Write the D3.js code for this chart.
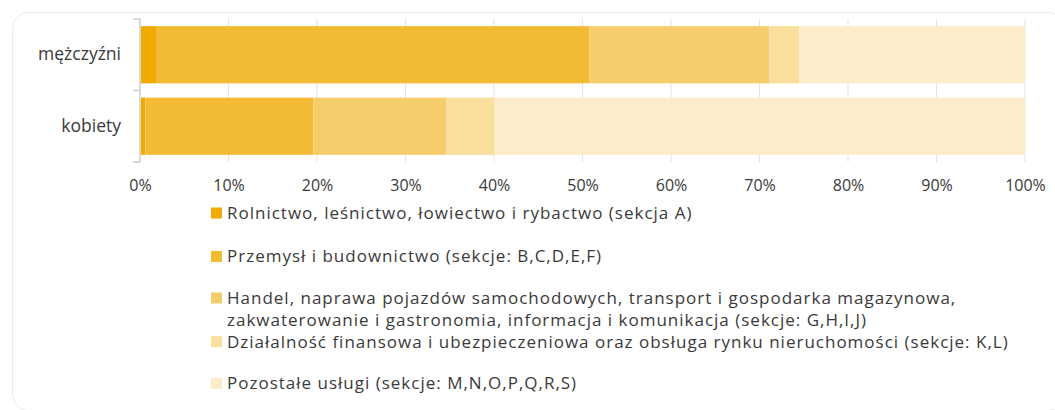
<!doctype html>
<html>
<head>
    <meta charset="utf-8" />
    <title></title>
    <style>
        body { margin: 0; background: #fff; }
        svg text { font-family: "Open Sans", "Noto Sans", sans-serif; fill: #3a3a3a; }
        .grid line { stroke: #e3e3e3; }
        .legend text { letter-spacing: 1px; }
    </style>
</head>
<body>
    <div id="chart"></div>

    <script src="https://cdn.jsdelivr.net/npm/d3@7"></script>
    <script>
        var categories = ["mężczyźni", "kobiety"];
        var series = [
            "Rolnictwo, leśnictwo, łowiectwo i rybactwo (sekcja A)",
            "Przemysł i budownictwo (sekcje: B,C,D,E,F)",
            "Handel, naprawa pojazdów samochodowych, transport i gospodarka magazynowa,|zakwaterowanie i gastronomia, informacja i komunikacja (sekcje: G,H,I,J)",
            "Działalność finansowa i ubezpieczeniowa oraz obsługa rynku nieruchomości (sekcje: K,L)",
            "Pozostałe usługi (sekcje: M,N,O,P,Q,R,S)"
        ];
        var menValues = [1.9, 48.9, 20.3, 3.4, 25.5];
        var womenValues = [0.6, 19.0, 15.0, 5.4, 60.0];
        var colors = ["#f0aa00", "#f3bb33", "#f6cd6b", "#f9de9c", "#fcecca"];
        var ticks = [0, 10, 20, 30, 40, 50, 60, 70, 80, 90, 100];

        var w = 1055, h = 410;

        var svg = d3.select("#chart").append("svg").attr("width", w).attr("height", h);

        // card
        svg.append("rect").attr("x", 12.5).attr("y", 12.5).attr("width", 1052).attr("height", 398)
            .attr("rx", 16).attr("fill", "#fff").attr("stroke", "#ebebeb");

        var x = d3.scaleLinear().domain([0, 100]).range([140, 1025]);
        var y = d3.scaleBand().domain(categories).range([19, 162]).paddingInner(0.2).paddingOuter(0.1);

        // gridlines
        svg.append("g").attr("class", "grid").selectAll("line").data(ticks.slice(1)).enter().append("line")
            .attr("x1", function(d) { return x(d); }).attr("x2", function(d) { return x(d); })
            .attr("y1", 19).attr("y2", 162);

        // stack
        var rows = categories.map(function(c, i) {
            var vals = i === 0 ? menValues : womenValues;
            var o = { cat: c };
            vals.forEach(function(v, j) { o["s" + j] = v; });
            return o;
        });
        var stack = d3.stack().keys(series.map(function(s, j) { return "s" + j; }));
        var layers = stack(rows);

        svg.append("g").selectAll("g").data(layers).enter().append("g")
            .attr("fill", function(d, i) { return colors[i]; })
            .selectAll("rect").data(function(d) { return d; }).enter().append("rect")
            .attr("x", function(d) { return x(d[0]); })
            .attr("width", function(d) { return x(d[1]) - x(d[0]); })
            .attr("y", function(d) { return y(d.data.cat); })
            .attr("height", y.bandwidth());

        // y axis
        var yAxis = svg.append("g").attr("transform", "translate(140,0)")
            .call(d3.axisLeft(y).tickSize(0).tickPadding(19));
        yAxis.select(".domain").remove();
        yAxis.selectAll("text").attr("font-size", 17.5).attr("fill", "#3a3a3a");
        yAxis.append("line").attr("x1", 0).attr("x2", 0).attr("y1", 19).attr("y2", 162)
            .attr("stroke", "#d9d9d9").attr("stroke-width", 2);
        yAxis.selectAll(".tk").data([19, 90.5, 162]).enter().append("line")
            .attr("x1", -7).attr("x2", 0).attr("y1", function(d) { return d; }).attr("y2", function(d) { return d; })
            .attr("stroke", "#d9d9d9").attr("stroke-width", 2);

        // x axis
        var xAxis = svg.append("g").attr("transform", "translate(0,162)")
            .call(d3.axisBottom(x).tickValues(ticks).tickSize(0).tickPadding(18)
                .tickFormat(function(d) { return d + "%"; }));
        xAxis.select(".domain").remove();
        xAxis.selectAll("text").attr("font-size", 16).attr("fill", "#3a3a3a");

        // legend
        var legendY = [213, 256.5, 298, 341.7, 383.3];
        var lg = svg.append("g").attr("class", "legend").selectAll("g").data(series).enter().append("g")
            .attr("transform", function(d, i) { return "translate(211," + legendY[i] + ")"; });
        lg.append("rect").attr("x", 0).attr("y", -5.5).attr("width", 11).attr("height", 11)
            .attr("fill", function(d, i) { return colors[i]; });
        lg.append("text").attr("x", 16).attr("font-size", 17)
            .selectAll("tspan").data(function(d) { return d.split("|"); }).enter().append("tspan")
            .attr("x", 16).attr("dy", function(d, i) { return i === 0 ? "0.35em" : 22; })
            .text(function(d) { return d; });
    </script>
</body>
</html>
